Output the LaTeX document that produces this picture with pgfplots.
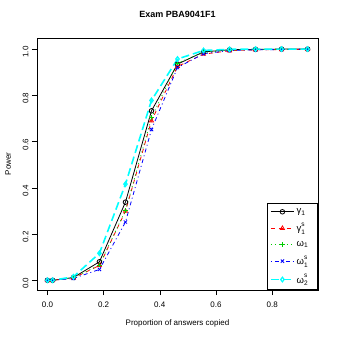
\documentclass[border=0pt]{standalone}
\usepackage{fontspec}
\setmainfont{Liberation Sans}
\usepackage{pgfplots}
\pgfplotsset{compat=1.18}
\definecolor{rgreen}{RGB}{0,205,0}
\definecolor{rcyan}{RGB}{0,255,255}
% symbol with a superscript s stacked above its subscript
\newcommand{\sx}[2]{#1\raisebox{-2.2pt}{\fontsize{6.5}{6.5}\selectfont\shortstack[l]{s\\#2}}}
\newcommand{\legtxt}[1]{\makebox[16pt][l]{#1}}

\begin{document}
\begin{tikzpicture}[font=\fontsize{8}{9}\selectfont]
\useasboundingbox[fill=white] (-37pt,-49pt) rectangle (302pt,290pt);
\begin{axis}[
    scale only axis, width=281pt, height=252pt,
    xmin=-0.037, xmax=0.963, ymin=-0.042, ymax=1.048,
    xtick={0,0.2,0.4,0.6,0.8}, xticklabels={0.0,0.2,0.4,0.6,0.8},
    ytick={0,0.2,0.4,0.6,0.8,1.0}, yticklabels={0.0,0.2,0.4,0.6,0.8,1.0},
    xtick pos=bottom, ytick pos=left,
    tick align=outside, major tick length=5pt,
    tick style={black, line width=0.6pt},
    axis line style={line width=0.7pt},
    xticklabel style={yshift=-3pt},
    yticklabel style={rotate=90, anchor=south, xshift=-3pt},
    title={Exam PBA9041F1},
    title style={at={(axis description cs:0.5,1.071)}, anchor=center, font=\bfseries\fontsize{9}{10}\selectfont},
    xlabel={Proportion of answers copied},
    xlabel style={at={(axis description cs:0.5,-0.131)}, anchor=center},
    ylabel={Power},
    ylabel style={at={(axis description cs:-0.103,0.5)}, anchor=center},
    legend style={at={(axis description cs:1,0)}, anchor=south east, draw=black, line width=0.6pt,
        fill=white, font=\fontsize{9.5}{10}\selectfont, row sep=4pt, inner xsep=3pt, inner ysep=3pt},
    legend cell align=left,
    legend image code/.code={\draw[mark repeat=2,mark phase=2] plot coordinates {(0pt,0pt)(11.5pt,0pt)(23pt,0pt)};},
    every axis plot/.append style={line width=0.8pt, mark size=2.3pt},
]
\addplot[black, mark=o, mark options={solid}] coordinates {
 (0,0) (0.0185,0) (0.0926,0.012) (0.1852,0.080) (0.2778,0.338) (0.3704,0.733)
 (0.4630,0.935) (0.5556,0.988) (0.6481,0.997) (0.7407,0.999) (0.8333,1.0) (0.9259,1.0)};
\addlegendentry{\legtxt{γ\textsubscript{1}}}
\addplot[red, dash pattern=on 4pt off 4pt, mark=triangle, mark options={solid}] coordinates {
 (0,0) (0.0185,0) (0.0926,0.010) (0.1852,0.064) (0.2778,0.299) (0.3704,0.690)
 (0.4630,0.925) (0.5556,0.978) (0.6481,0.993) (0.7407,0.997) (0.8333,0.998) (0.9259,0.999)};
\addlegendentry{\legtxt{\sx{γ}{1}}}
\addplot[rgreen, dash pattern=on 1pt off 3pt, mark=+, mark options={solid}] coordinates {
 (0,0) (0.0185,0) (0.0926,0.011) (0.1852,0.066) (0.2778,0.302) (0.3704,0.703)
 (0.4630,0.940) (0.5556,0.985) (0.6481,0.996) (0.7407,0.998) (0.8333,0.999) (0.9259,1.0)};
\addlegendentry{\legtxt{ω\textsubscript{1}}}
\addplot[blue, dash pattern=on 1pt off 3pt on 4pt off 3pt, mark=x, mark options={solid}] coordinates {
 (0,0) (0.0185,0) (0.0926,0.008) (0.1852,0.047) (0.2778,0.252) (0.3704,0.652)
 (0.4630,0.920) (0.5556,0.980) (0.6481,0.994) (0.7407,0.997) (0.8333,0.998) (0.9259,0.999)};
\addlegendentry{\legtxt{\sx{ω}{1}}}
\addplot[rcyan, line width=1.6pt, dash pattern=on 8pt off 4pt, mark=diamond, mark options={solid, line width=1.2pt}] coordinates {
 (0,0) (0.0185,0) (0.0926,0.015) (0.1852,0.117) (0.2778,0.416) (0.3704,0.778)
 (0.4630,0.957) (0.5556,0.994) (0.6481,0.999) (0.7407,1.0) (0.8333,1.0) (0.9259,1.0)};
\addlegendentry{\legtxt{\sx{ω}{2}}}
\end{axis}
\end{tikzpicture}
\end{document}
